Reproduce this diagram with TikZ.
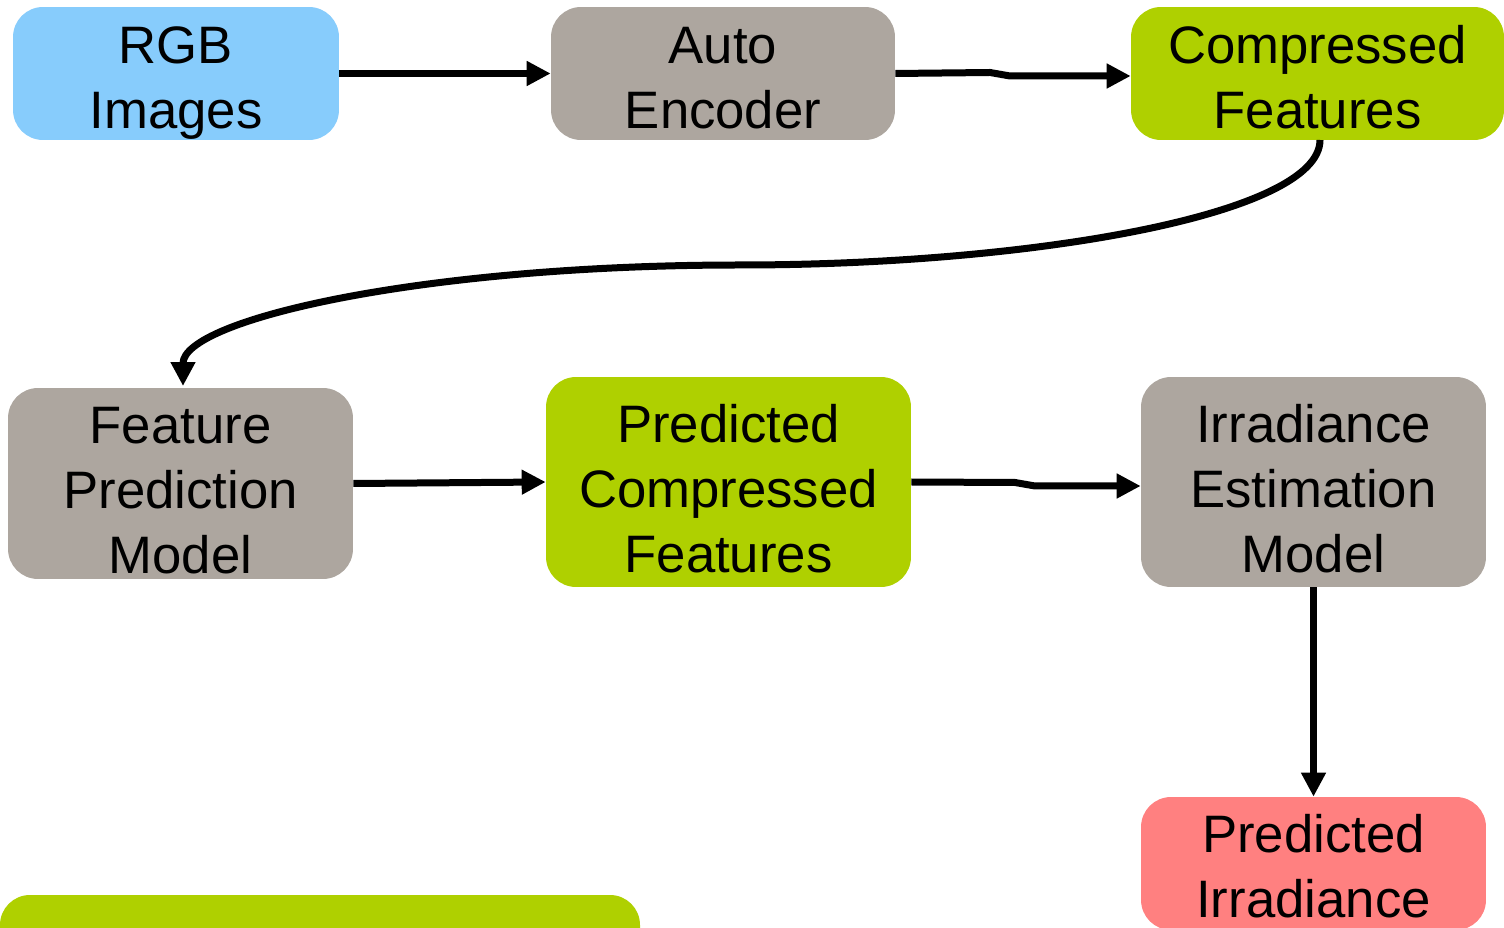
\documentclass[tikz,border=0pt]{standalone}
\usepackage{fontspec}
\setmainfont{Liberation Sans}
\usetikzlibrary{arrows.meta}
\definecolor{skyfill}{RGB}{135,204,252}
\definecolor{greyfill}{RGB}{173,166,159}
\definecolor{limefill}{RGB}{175,208,0}
\definecolor{rosefill}{RGB}{255,128,128}
% invisible rule fixing the top of a label 30pt above its first baseline
\newcommand{\capline}{\rule{0pt}{30pt}}
\tikzset{
  box/.style={rounded corners=0.6cm, inner sep=0pt},
  boxtext/.style={inner sep=0pt, anchor=north, align=center,
    font=\fontsize{30}{37}\selectfont, text=black},
  flow/.style={line width=0.14cm, -{Triangle[length=0.48cm,width=0.47cm]}},
}
\begin{document}
\begin{tikzpicture}[x=0.02cm,y=-0.02cm]
\clip (0,0) rectangle (1504,928);
\fill[white] (0,0) rectangle (1504,928);

% top row
\node[box, fill=skyfill, minimum width=6.52cm, minimum height=2.66cm] (rgb) at (176,73.5) {};
\node[box, fill=greyfill, minimum width=6.88cm, minimum height=2.66cm] (ae) at (723,73.5) {};
\node[box, fill=limefill, minimum width=7.46cm, minimum height=2.66cm] (cf) at (1317.5,73.5) {};

% middle row
\node[box, fill=greyfill, minimum width=6.9cm, minimum height=3.82cm] (fpm) at (180.5,483.5) {};
\node[box, fill=limefill, minimum width=7.3cm, minimum height=4.2cm] (pcf) at (728.5,482) {};
\node[box, fill=greyfill, minimum width=6.9cm, minimum height=4.2cm] (iem) at (1313.5,482) {};

% output
\node[box, fill=rosefill, minimum width=6.9cm, minimum height=2.66cm] (pi) at (1313.5,863.5) {};

% box labels, placed by their first baseline
\node[boxtext] (rgbtext) at ([yshift=0.21cm+30pt]rgb.center) {\capline RGB\\Images};
\node[boxtext] (aetext) at ([yshift=0.21cm+30pt]ae.center) {\capline Auto\\Encoder};
\node[boxtext] (cftext) at ([yshift=0.21cm+30pt]cf.center) {\capline Compressed\\Features};
\node[boxtext] (fpmtext) at ([yshift=0.81cm+30pt]fpm.center) {\capline Feature\\Prediction\\Model};
\node[boxtext] (pcftext) at ([yshift=0.8cm+30pt]pcf.center) {\capline Predicted\\Compressed\\Features};
\node[boxtext] (iemtext) at ([yshift=0.8cm+30pt]iem.center) {\capline Irradiance\\Estimation\\Model};
\node[boxtext] (pitext) at ([yshift=0.23cm+30pt]pi.center) {\capline Predicted\\Irradiance};

% bar along the lower edge
\fill[limefill, rounded corners=0.6cm] (0,980) -- (0,895) -- (640,895) -- (640,980);

% connectors
\draw[flow] (rgb.east) -- (ae.west);
\coordinate (aebend) at (990,72.5);
\coordinate (aebend2) at (1010,76);
\draw[flow] (ae.east) -- (aebend) -- (aebend2) -- (aebend2 -| cf.west);
\coordinate (cfout) at (1320,140);
\coordinate (mid) at (740,265);
\coordinate (fpmin) at (183,386);
\draw[flow] (cfout) .. controls (1320,215) and (1030,265) .. (mid)
  .. controls (420,265) and (183,320) .. (fpmin);
\draw[flow] (fpm.east) -- (pcf.west);
\coordinate (pcfbend) at (1015,482.5);
\coordinate (pcfbend2) at (1035,486);
\draw[flow] (pcf.east) -- (pcfbend) -- (pcfbend2) -- (pcfbend2 -| iem.west);
\draw[flow] (iem.south) -- (pi.north);
\end{tikzpicture}
\end{document}
